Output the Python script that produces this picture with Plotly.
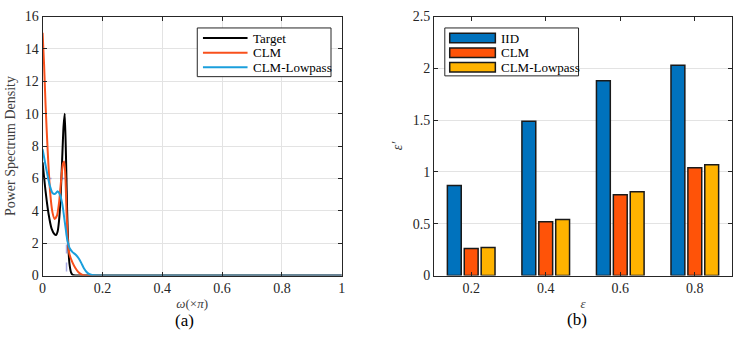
import plotly.graph_objects as go

# ---------------- data: panel (a) ----------------
target_w = [0, 0.01, 0.02, 0.03, 0.04, 0.045, 0.05, 0.055, 0.06, 0.065, 0.07, 0.074,
            0.078, 0.082, 0.086, 0.09, 0.095, 0.1, 0.11, 0.12, 1.0]
target_p = [7.0, 5.2, 3.8, 2.9, 2.55, 2.5, 2.7, 3.4, 4.8, 7.0, 9.2, 10.0,
            7.5, 4.0, 1.8, 0.7, 0.2, 0.05, 0.0, 0.0, 0.0]

clm_w = [0, 0.005, 0.01, 0.017, 0.025, 0.033, 0.04, 0.048, 0.055, 0.062, 0.068, 0.072,
         0.076, 0.08, 0.085, 0.09, 0.1, 0.11, 0.12, 0.13, 0.14, 1.0]
clm_p = [15, 13, 10.5, 7.7, 5.2, 3.9, 3.5, 3.7, 4.5, 5.9, 6.9, 7.05,
         6.2, 4.0, 2.0, 1.3, 0.8, 0.45, 0.2, 0.07, 0.0, 0.0]

lp_w = [0, 0.008, 0.017, 0.025, 0.033, 0.042, 0.05, 0.058, 0.066, 0.075, 0.083, 0.09,
        0.1, 0.11, 0.121, 0.13, 0.138, 0.147, 0.155, 0.165, 0.18, 1.0]
lp_p = [7.8, 7.0, 6.15, 5.5, 5.1, 5.05, 5.2, 5.0, 4.4, 3.2, 2.15, 1.7,
        1.45, 1.3, 1.05, 0.75, 0.45, 0.22, 0.1, 0.03, 0.0, 0.0]

ideal_w = [0, 0.08, 0.08]
ideal_p = [6, 6, 0]

# ---------------- data: panel (b) ----------------
eps = [0.2, 0.4, 0.6, 0.8]
iid = [0.87, 1.49, 1.88, 2.03]
clm = [0.26, 0.52, 0.78, 1.04]
clm_lowpass = [0.27, 0.54, 0.81, 1.07]

line_names = ["Target", "CLM", "CLM-Lowpass"]
line_colors = ["#000000", "#F8501C", "#1B9FDC"]
bar_names = ["IID", "CLM", "CLM-Lowpass"]
bar_colors = ["#0072BD", "#FF5308", "#FFB300"]

FONT = "Liberation Serif, Times New Roman, serif"
AX = "#262626"

fig = go.Figure()

fig.add_trace(go.Scatter(x=ideal_w, y=ideal_p, mode="lines",
                         line=dict(color="rgba(120,125,215,0.65)", width=1.5, dash="dash"),
                         xaxis="x", yaxis="y", showlegend=False))
for xs, ys, c in [(target_w, target_p, line_colors[0]),
                  (clm_w, clm_p, line_colors[1]),
                  (lp_w, lp_p, line_colors[2])]:
    fig.add_trace(go.Scatter(x=xs, y=ys, mode="lines",
                             line=dict(color=c, width=2, shape="spline", smoothing=0.6),
                             xaxis="x", yaxis="y", showlegend=False))

for vals, name, c in zip([iid, clm, clm_lowpass], bar_names, bar_colors):
    fig.add_trace(go.Bar(x=eps, y=vals, name=name, marker=dict(color=c, line=dict(color="#1a1a1a", width=1.5)),
                         xaxis="x2", yaxis="y2", showlegend=False))

common_axis = dict(showline=True, linecolor=AX, linewidth=1, mirror="allticks",
                   ticks="inside", ticklen=4, tickcolor=AX, zeroline=False,
                   tickfont=dict(family=FONT, size=14, color=AX),
                   gridcolor="#E3E3E3", gridwidth=1)

fig.update_layout(
    width=743, height=338,
    margin=dict(l=0, r=0, t=0, b=0),
    paper_bgcolor="white", plot_bgcolor="white",
    barmode="group", bargap=0.32, bargroupgap=0.18,
    xaxis=dict(domain=[0.0538, 0.4603], range=[0, 1], tickvals=[0, 0.2, 0.4, 0.6, 0.8, 1],
               ticktext=["0", "0.2", "0.4", "0.6", "0.8", "1"], showgrid=True, anchor="y",
               title=dict(text="<i>ω</i>(×<i>π</i>)", font=dict(family=FONT, size=13, color="#404040"),
                          standoff=3),
               **common_axis),
    yaxis=dict(domain=[0.1686, 0.9704], range=[0, 16], tickvals=list(range(0, 17, 2)), showgrid=True,
               anchor="x",
               title=dict(text="Power Spectrum Density", font=dict(family=FONT, size=14, color="#404040"),
                          standoff=5),
               **common_axis),
    xaxis2=dict(domain=[0.5855, 0.9906], range=[0.1, 0.9], tickvals=eps,
                ticktext=["0.2", "0.4", "0.6", "0.8"], showgrid=False, anchor="y2",
                title=dict(text="<i>ε</i>", font=dict(family=FONT, size=13, color="#404040"), standoff=3),
                **common_axis),
    yaxis2=dict(domain=[0.1686, 0.9704], range=[0, 2.5], tickvals=[0, 0.5, 1, 1.5, 2, 2.5],
                ticktext=["0", "0.5", "1", "1.5", "2", "2.5"], showgrid=True, anchor="x2",
                title=dict(text="<i>ε′</i>", font=dict(family=FONT, size=14, color="#404040"), standoff=6),
                **common_axis),
)

shapes = []
annotations = []

# legend (a)
shapes.append(dict(type="rect", xref="x domain", yref="y domain", x0=0.517, x1=0.964, y0=0.768, y1=0.956,
                   fillcolor="white", line=dict(color="#262626", width=1), layer="above"))
rows = [0.917, 0.860, 0.804]
for name, c, yy in zip(line_names, line_colors, rows):
    shapes.append(dict(type="line", xref="x domain", yref="y domain", x0=0.536, x1=0.685, y0=yy, y1=yy,
                       line=dict(color=c, width=2), layer="above"))
    annotations.append(dict(xref="x domain", yref="y domain", x=0.695, y=yy, text=name, showarrow=False,
                            xanchor="left", yanchor="middle", font=dict(family=FONT, size=13, color="#000")))

# legend (b)
shapes.append(dict(type="rect", xref="x2 domain", yref="y2 domain", x0=0.0365, x1=0.485, y0=0.771, y1=0.956,
                   fillcolor="white", line=dict(color="#262626", width=1), layer="above"))
for name, c, yy in zip(bar_names, bar_colors, rows):
    shapes.append(dict(type="rect", xref="x2 domain", yref="y2 domain", x0=0.053, x1=0.206,
                       y0=yy - 0.0185, y1=yy + 0.0185, fillcolor=c, line=dict(color="#1a1a1a", width=1.5),
                       layer="above"))
    annotations.append(dict(xref="x2 domain", yref="y2 domain", x=0.219, y=yy, text=name, showarrow=False,
                            xanchor="left", yanchor="middle", font=dict(family=FONT, size=13, color="#000")))

# panel captions
annotations.append(dict(xref="paper", yref="paper", x=183 / 743, y=1 - 328 / 338, text="(a)", showarrow=False,
                        xanchor="center", yanchor="middle", font=dict(family=FONT, size=17, color="#000")))
annotations.append(dict(xref="paper", yref="paper", x=579 / 743, y=1 - 327 / 338, text="(b)", showarrow=False,
                        xanchor="center", yanchor="middle", font=dict(family=FONT, size=17, color="#000")))

fig.update_layout(shapes=shapes, annotations=annotations)

fig.write_html("out.html")
